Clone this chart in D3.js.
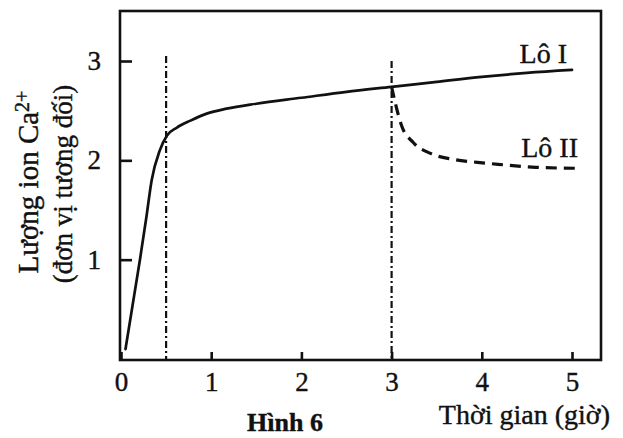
<!DOCTYPE html>
<html>
<head>
<meta charset="utf-8">
<script src="https://cdn.jsdelivr.net/npm/d3@7"></script>
<style>
  html, body { margin: 0; padding: 0; background: #fff; }
  svg { display: block; }
  text { font-family: "Liberation Serif", "Times New Roman", serif; fill: #111; stroke: #111; stroke-width: 0.4px; }
</style>
</head>
<body>
<svg id="chart" width="623" height="438"></svg>
<script>
// ---- data ----
const xTicks = [0, 1, 2, 3, 4, 5];
const yTicks = [1, 2, 3];
const loITime  = [0.05, 0.21, 0.28, 0.34, 0.43, 0.51, 0.62, 0.77, 0.95, 1.17, 1.5, 2, 2.5, 3, 3.5, 4, 4.5, 5];
const loIValue = [0.1, 1.0, 1.42, 1.8, 2.1, 2.25, 2.33, 2.40, 2.47, 2.52, 2.57, 2.63, 2.69, 2.74, 2.79, 2.84, 2.88, 2.91];
const loIITime  = [3, 3.04, 3.11, 3.24, 3.43, 3.68, 3.95, 4.18, 4.6, 5.05];
const loIIValue = [2.74, 2.58, 2.35, 2.18, 2.07, 2.01, 1.98, 1.96, 1.93, 1.92];
const markerTimes = [0.5, 3];
const markerTops  = [3.05, 3.0];
const seriesLabels = ["Lô I", "Lô II"];
const xTitle = "Thời gian (giờ)";
const yTitle1 = "Lượng ion Ca";
const yTitle1Sup = "2+";
const yTitle2 = "(đơn vị tương đối)";
const caption = "Hình 6";

// ---- layout ----
const svg = d3.select("#chart");
const fLeft = 120, fRight = 601, fTop = 11, fBottom = 360;
const x = d3.scaleLinear().domain([0, 5]).range([121, 572]);
const y = d3.scaleLinear().domain([0, 3]).range([359, 61]);

// frame
svg.append("rect")
  .attr("x", fLeft).attr("y", fTop)
  .attr("width", fRight - fLeft).attr("height", fBottom - fTop)
  .attr("fill", "none").attr("stroke", "#111").attr("stroke-width", 2.6);

// x axis
const xAxis = d3.axisBottom(x).tickValues(xTicks).tickSize(-8).tickPadding(12).tickFormat(d3.format("d"));
const gx = svg.append("g").attr("transform", `translate(0,${fBottom})`).call(xAxis);
gx.select(".domain").remove();
gx.selectAll(".tick line").attr("stroke", "#111").attr("stroke-width", 2.6);
gx.selectAll(".tick text").style("font-size", "27px").attr("fill", "#111");

// y axis
const yAxis = d3.axisLeft(y).tickValues(yTicks).tickSize(-12).tickPadding(19).tickFormat(d3.format("d"));
const gy = svg.append("g").attr("transform", `translate(${fLeft},0)`).call(yAxis);
gy.select(".domain").remove();
gy.selectAll(".tick line").attr("stroke", "#111").attr("stroke-width", 2.6);
gy.selectAll(".tick text").style("font-size", "27px").attr("fill", "#111");

// dash-dot marker lines
markerTimes.forEach((t, i) => {
  svg.append("line")
    .attr("x1", x(t)).attr("x2", x(t))
    .attr("y1", y(markerTops[i])).attr("y2", fBottom)
    .attr("stroke", "#111").attr("stroke-width", 2.2)
    .attr("stroke-dasharray", "7,3,2,3");
});

// lines
const line = d3.line().x(d => x(d[0])).y(d => y(d[1])).curve(d3.curveMonotoneX);
svg.append("path")
  .datum(loITime.map((t, i) => [t, loIValue[i]]))
  .attr("d", line).attr("fill", "none")
  .attr("stroke", "#111").attr("stroke-width", 2.7).attr("stroke-linecap", "round");
svg.append("path")
  .datum(loIITime.map((t, i) => [t, loIIValue[i]]))
  .attr("d", line).attr("fill", "none")
  .attr("stroke", "#111").attr("stroke-width", 3.2)
  .attr("stroke-dasharray", "11,7");

// series labels
svg.append("text").attr("x", 567).attr("y", 63).attr("text-anchor", "end")
  .style("font-size", "28px").text(seriesLabels[0]);
svg.append("text").attr("x", 578).attr("y", 157).attr("text-anchor", "end")
  .style("font-size", "28px").text(seriesLabels[1]);

// axis titles
svg.append("text").attr("x", 610).attr("y", 424).attr("text-anchor", "end")
  .style("font-size", "28px").text(xTitle);

const yt1 = svg.append("text")
  .attr("transform", "translate(38,182) rotate(-90)")
  .attr("text-anchor", "middle").style("font-size", "29px");
yt1.append("tspan").text(yTitle1);
yt1.append("tspan").attr("dy", "-0.45em").style("font-size", "20px").text(yTitle1Sup);

svg.append("text")
  .attr("transform", "translate(72,184) rotate(-90)")
  .attr("text-anchor", "middle").style("font-size", "27px").text(yTitle2);

// caption
svg.append("text").attr("x", 285).attr("y", 431).attr("text-anchor", "middle")
  .style("font-size", "26px").style("font-weight", "bold").text(caption);
</script>
</body>
</html>
